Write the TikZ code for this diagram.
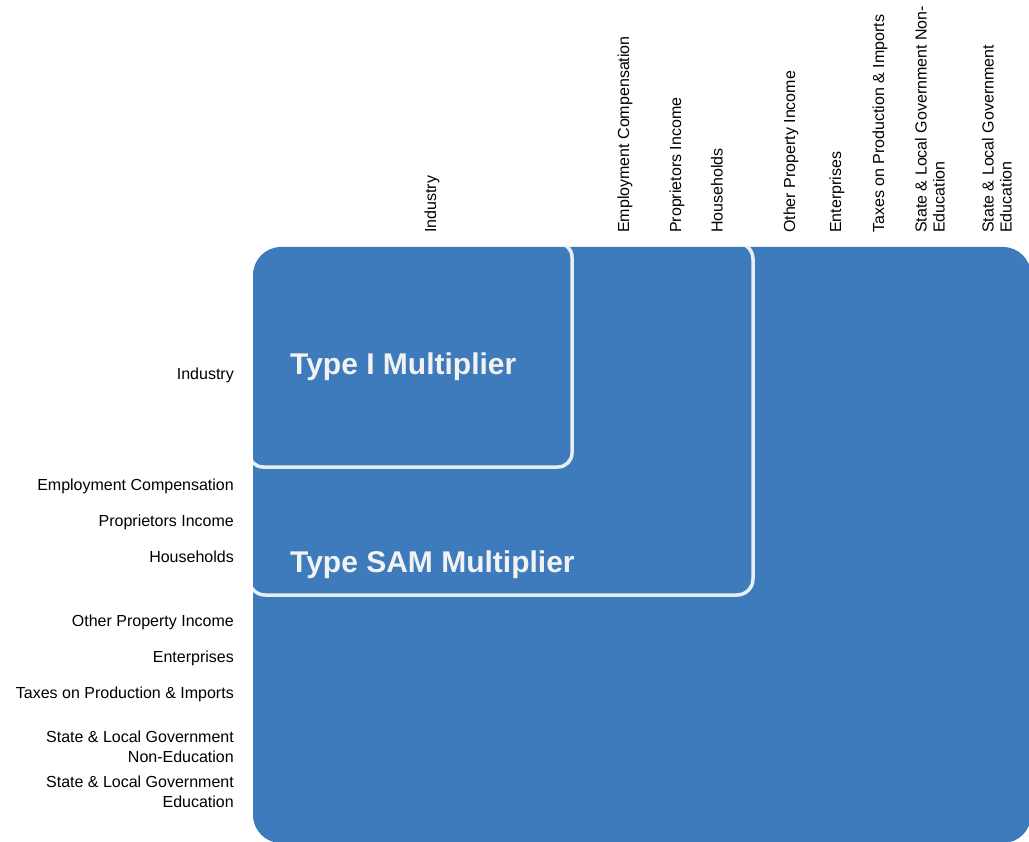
\documentclass[tikz,border=0pt]{standalone}
\usepackage{fontspec}
\setmainfont{Liberation Sans}
\usepackage{xcolor}
\definecolor{matblue}{RGB}{62,123,188}
\definecolor{rimwhite}{RGB}{232,238,246}
\definecolor{typewhite}{RGB}{242,242,242}
\tikzset{
	rowlab/.style={anchor=east, align=right, inner sep=0pt, font=\fontsize{16}{20}\selectfont},
	collab/.style={anchor=west, rotate=90, align=left, inner sep=0pt, font=\fontsize{16}{18}\selectfont},
	multlab/.style={anchor=west, inner sep=0pt, text=typewhite, font=\fontsize{30}{34}\selectfont\bfseries},
	rim/.style={draw=rimwhite, line width=3.5pt}
}

\begin{document}
\begin{tikzpicture}[x=1pt, y=-1pt]
			\clip (0,0) rectangle (1029,842);
			% the whole matrix
			\fill[matblue, rounded corners=28] (253,247) rectangle (1031,843);
			\begin{scope}
				\clip[rounded corners=28] (253,247) rectangle (1031,843);
				\draw[rim, rounded corners=16] (249,243) rectangle (753,595);
				\draw[rim, rounded corners=14] (249,243) rectangle (572,467);
			\end{scope}
			\node[multlab] (typei) at (290,367) {Type I Multiplier};
			\node[multlab] (typesam) at (290,565) {Type SAM Multiplier};
			% row labels
			\node[rowlab] (rind) at (234,375) {Industry};
			\node[rowlab] (remp) at (234,486) {Employment Compensation};
			\node[rowlab] (rprop) at (234,522) {Proprietors Income};
			\node[rowlab] (rhh) at (234,557) {Households};
			\node[rowlab] (roth) at (234,622) {Other Property Income};
			\node[rowlab] (rent) at (234,658) {Enterprises};
			\node[rowlab] (rtax) at (234,694) {Taxes on Production \& Imports};
			\node[rowlab] (rnon) at (234,747) {State \& Local Government\\Non-Education};
			\node[rowlab] (redu) at (234,792) {State \& Local Government\\Education};
			% column labels
			\node[collab] (cind) at (432,233) {Industry};
			\node[collab] (cemp) at (625,233) {Employment Compensation};
			\node[collab] (cprop) at (677,233) {Proprietors Income};
			\node[collab] (chh) at (717,233) {Households};
			\node[collab] (coth) at (791,233) {Other Property Income};
			\node[collab] (cent) at (837,233) {Enterprises};
			\node[collab] (ctax) at (880,233) {Taxes on Production \& Imports};
			\node[collab] (cnon) at (930,233) {State \& Local Government Non-\\Education};
			\node[collab] (cedu) at (997,233) {State \& Local Government\\Education};
		\end{tikzpicture}
\end{document}
